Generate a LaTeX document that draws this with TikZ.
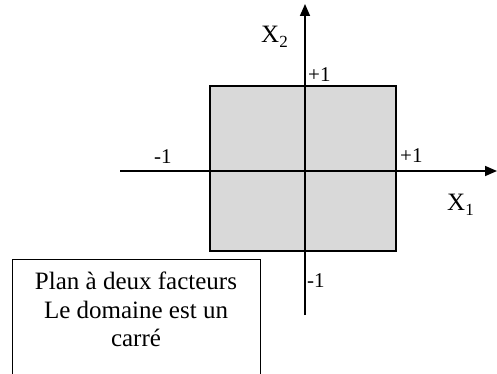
\documentclass[tikz,border=0pt]{standalone}
\usepackage{fontspec}
\setmainfont{Liberation Serif}
\usetikzlibrary{arrows.meta}
\newcommand{\subidx}[1]{\raisebox{-5pt}{\fontsize{17}{17}\selectfont #1}}
\begin{document}
\begin{tikzpicture}[x=1pt,y=-1pt,
  axis/.style={line width=1.6pt,-{Triangle[length=12pt,width=10pt]}},
  lbl/.style={inner sep=0pt,anchor=base west,font=\fontsize{21}{21}\selectfont},
  xlbl/.style={inner sep=0pt,anchor=base west,font=\fontsize{25}{25}\selectfont},
  squarebox/.style={draw,line width=1.4pt,fill=black!15,inner sep=0pt,minimum width=186pt,minimum height=165pt},
  note/.style={draw,line width=1.4pt,inner sep=0pt,minimum width=248pt,minimum height=140pt,anchor=north west}]
\useasboundingbox (0,0) rectangle (497,374);
\node[squarebox] (sq) at (303,168.5) {};
\coordinate (xs) at (120,171);
\coordinate (xe) at (497,171);
\coordinate (ys) at (305,315);
\coordinate (ye) at (305,4);
\draw[axis] (xs) -- (xe);
\draw[axis] (ys) -- (ye);
\node[xlbl] (x2) at (261,43) {X\subidx{2}};
\node[xlbl] (x1) at (447,210) {X\subidx{1}};
\node[lbl] (pt) at (308,82) {+1};
\node[lbl] (pr) at (400,162) {+1};
\node[lbl] (ml) at (154,164) {-1};
\node[lbl] (mb) at (307,287) {-1};
\node[note] (box) at (12,259) {};
\node[font=\fontsize{25}{28.5}\selectfont,align=center,anchor=north,inner sep=0pt] (txt) at (136,272) {Plan à deux facteurs\\Le domaine est un\\carré};
\end{tikzpicture}
\end{document}
